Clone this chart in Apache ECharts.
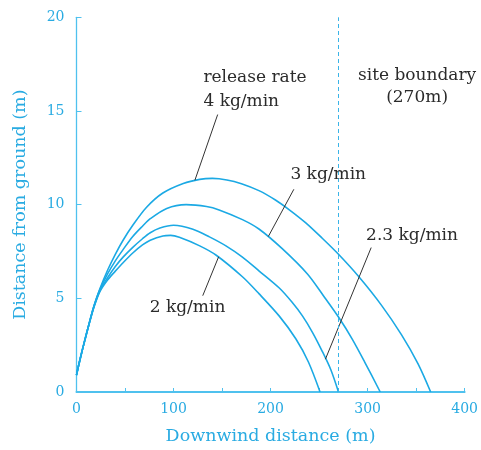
<!DOCTYPE html>
<html>
<head>
<meta charset="utf-8">
<script src="https://cdn.jsdelivr.net/npm/echarts@6/dist/echarts.min.js"></script>
<style>
html,body{margin:0;padding:0;background:#fff;}
#chart{width:481px;height:450px;}
</style>
</head>
<body>
<div id="chart"></div>
<script>
// Curve data: [downwind distance (m), height above ground (m)]
const rate4 = [[0,0.9],[3,1.6],[8,2.65],[13,3.65],[18,4.6],[24,5.5],[32,6.5],[40,7.35],[48,8.1],[58,8.9],[72,9.85],[89,10.62],[110,11.13],[127,11.35],[140,11.4],[155,11.32],[170,11.12],[188,10.75],[205,10.25],[220,9.7],[236,9.04],[253,8.22],[270,7.35],[291,6.15],[314,4.65],[335,3.05],[352,1.5],[365,0]];
const rate3 = [[0,0.9],[3,1.6],[8,2.65],[13,3.65],[18,4.58],[24,5.45],[32,6.3],[40,7.0],[48,7.6],[58,8.3],[68,8.85],[76,9.25],[93,9.8],[113,10.0],[134,9.9],[147,9.72],[171,9.2],[188,8.7],[212,7.65],[238,6.3],[255,5.1],[270,4.0],[284,2.84],[297,1.6],[313,0]];
const rate23 = [[0,0.9],[3,1.6],[8,2.65],[13,3.64],[18,4.56],[24,5.4],[32,6.1],[40,6.7],[48,7.2],[58,7.72],[68,8.18],[76,8.5],[86,8.75],[100,8.9],[120,8.69],[137,8.28],[154,7.8],[171,7.2],[188,6.47],[209,5.55],[222,4.8],[233,4.05],[243,3.2],[253,2.2],[262,1.2],[270,0]];
const rate2 = [[0,0.9],[3,1.6],[8,2.65],[13,3.63],[18,4.53],[24,5.35],[32,5.98],[40,6.45],[48,6.9],[58,7.42],[68,7.85],[76,8.1],[89,8.33],[97,8.36],[106,8.26],[127,7.8],[144,7.3],[171,6.15],[188,5.25],[209,4.05],[226,2.84],[239,1.6],[251,0]];
const siteBoundary = 270;
const xTicks = [0,100,200,300,400];
const yTicks = [0,5,10,15,20];

// Annotations (data coordinates)
const labels = [
  {text:'release rate', at:[130.8,16.76], align:'left'},
  {text:'4 kg/min', at:[130.8,15.51], align:'left'},
  {text:'site boundary', at:[351,16.89], align:'center'},
  {text:'(270m)', at:[351,15.73], align:'center'},
  {text:'3 kg/min', at:[259.4,11.61], align:'center'},
  {text:'2.3 kg/min', at:[345.8,8.33], align:'center'},
  {text:'2 kg/min', at:[114.4,4.52], align:'center'}
];
const leaders = [
  [[145.5,14.81],[122,11.3]],
  [[224,10.82],[197.7,8.3]],
  [[303.7,7.71],[256.5,1.75]],
  [[130.1,5.14],[146.5,7.22]]
];

const BLUE = '#1ba9e4';
const AXIS = '#4fc1ee';
const FONT = 'DejaVu Serif';

const chart = echarts.init(document.getElementById('chart'), null, {renderer:'canvas'});

function curve(name, data, extra) {
  return Object.assign({
    name, type:'line', data, showSymbol:false, symbol:'none', smooth:0.3,
    lineStyle:{color:BLUE, width:1.6}, silent:true, animation:false, z:3
  }, extra || {});
}

const option = {
  animation:false,
  grid:{left:76.5, right:14.3, top:17.3, bottom:56.7},
  xAxis:{
    type:'value', min:0, max:400, interval:100,
    name:'Downwind distance (m)', nameLocation:'middle', nameGap:35,
    nameTextStyle:{color:'#29abe2', fontFamily:FONT, fontSize:17.5},
    axisLine:{show:true, lineStyle:{color:AXIS, width:2}},
    axisTick:{show:true, inside:true, length:4, lineStyle:{color:AXIS, width:1}},
    minorTick:{show:true, splitNumber:2, length:4, lineStyle:{color:AXIS, width:1}},
    axisLabel:{color:'#29abe2', fontFamily:FONT, fontSize:14, margin:10,
      formatter:v => xTicks.includes(v) ? String(v) : ''},
    splitLine:{show:false}
  },
  yAxis:{
    type:'value', min:0, max:20, interval:5,
    name:'Distance from ground (m)', nameLocation:'middle', nameGap:47,
    nameTextStyle:{color:'#29abe2', fontFamily:FONT, fontSize:17.5},
    axisLine:{show:true, lineStyle:{color:AXIS, width:1.3}},
    axisTick:{show:true, inside:true, length:5, lineStyle:{color:AXIS, width:1}},
    axisLabel:{color:'#29abe2', fontFamily:FONT, fontSize:14, margin:12,
      formatter:v => yTicks.includes(v) ? String(v) : ''},
    splitLine:{show:false}
  },
  series:[
    curve('4 kg/min', rate4, {
      markLine:{silent:true, symbol:'none', animation:false,
        label:{show:false},
        lineStyle:{color:'#3ab4e8', type:[4,3], width:1},
        data:[{xAxis:siteBoundary}]}
    }),
    curve('3 kg/min', rate3),
    curve('2.3 kg/min', rate23),
    curve('2 kg/min', rate2),
    {
      name:'leaders', type:'lines', coordinateSystem:'cartesian2d', silent:true, animation:false, z:4,
      lineStyle:{color:'#333', width:1, opacity:1},
      data: leaders.map(l => ({coords:l}))
    }
  ]
};
chart.setOption(option);

chart.setOption({
  graphic: labels.map(l => {
    const p = chart.convertToPixel({gridIndex:0}, l.at);
    return {
      type:'text', x:p[0], y:p[1], z:10, silent:true,
      style:{text:l.text, fill:'#2b2b2b', font:'17px "' + FONT + '"',
        textAlign:l.align, textVerticalAlign:'middle'}
    };
  })
});
</script>
</body>
</html>
